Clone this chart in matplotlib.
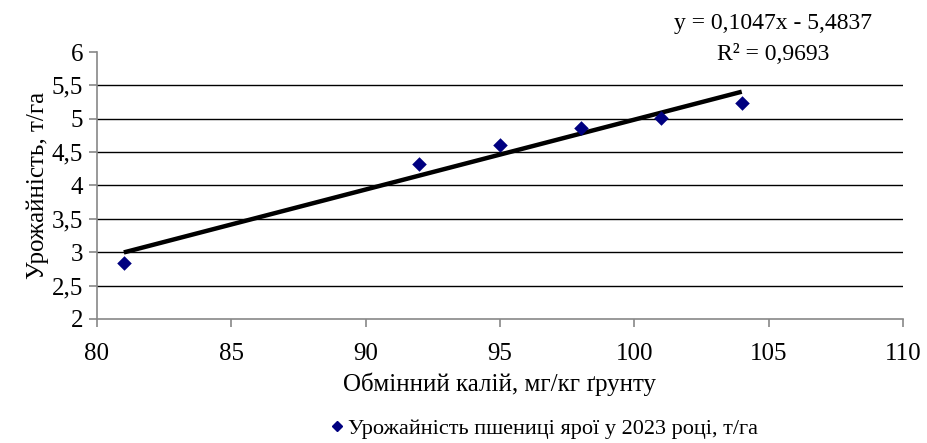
import numpy as np
import matplotlib
matplotlib.use("Agg")
import matplotlib.pyplot as plt
from matplotlib.lines import Line2D

# Data
potassium = [81, 92, 95, 98, 101, 104]
yield_t = [2.84, 4.32, 4.61, 4.86, 5.01, 5.24]
slope = 0.1047
intercept = -5.4837
x_ticks = [80, 85, 90, 95, 100, 105, 110]
y_ticks = [2, 2.5, 3, 3.5, 4, 4.5, 5, 5.5, 6]

plt.rcParams['font.family'] = ['Liberation Serif', 'DejaVu Serif']

fig = plt.figure(figsize=(9.28, 4.43), dpi=100)
ax = fig.add_axes([0.1045, 0.28, 0.8685, 0.6026])

# gridlines (no line at 2 or 6)
for v in y_ticks[1:-1]:
    ax.axhline(v, color='black', lw=1.0, zorder=1)

# trend line
xt = np.array([potassium[0], potassium[-1]])
ax.plot(xt, slope * xt + intercept, color='black', lw=3.2, zorder=2,
        solid_capstyle='butt')

ax.scatter(potassium, yield_t, marker='D', s=55, color='#000080', zorder=3,
           linewidths=0)

ax.set_xlim(80, 110)
ax.set_ylim(2, 6)
ax.set_xticks(x_ticks)
ax.set_yticks(y_ticks)
ax.set_xticklabels([str(v) for v in x_ticks])
ax.set_yticklabels([str(v).replace('.', ',') for v in y_ticks])

for s in ['top', 'right']:
    ax.spines[s].set_visible(False)
for s in ['left', 'bottom']:
    ax.spines[s].set_color('#888888')
    ax.spines[s].set_linewidth(1.2)
ax.tick_params(axis='both', colors='#888888', length=6, width=1.2,
               labelsize=18, labelcolor='black')
ax.tick_params(axis='x', pad=11)
ax.tick_params(axis='y', pad=4)

ax.set_xlabel('Обмінний калій, мг/кг ґрунту', fontsize=18, labelpad=6)
ax.set_ylabel('Урожайність, т/га', fontsize=18, labelpad=2)

fig.text(0.833, 0.948, 'y = 0,1047x - 5,4837', fontsize=17, ha='center', va='center')
fig.text(0.833, 0.878, 'R² = 0,9693', fontsize=17, ha='center', va='center')

handle = Line2D([], [], marker='D', color='#000080', linestyle='none', markersize=5)
fig.legend([handle], ['Урожайність пшениці ярої у 2023 році, т/га'],
           loc='center', bbox_to_anchor=(0.585, 0.033), frameon=False,
           fontsize=16, handletextpad=0.1, handlelength=0.8)

fig.savefig('out.png', dpi=100)
